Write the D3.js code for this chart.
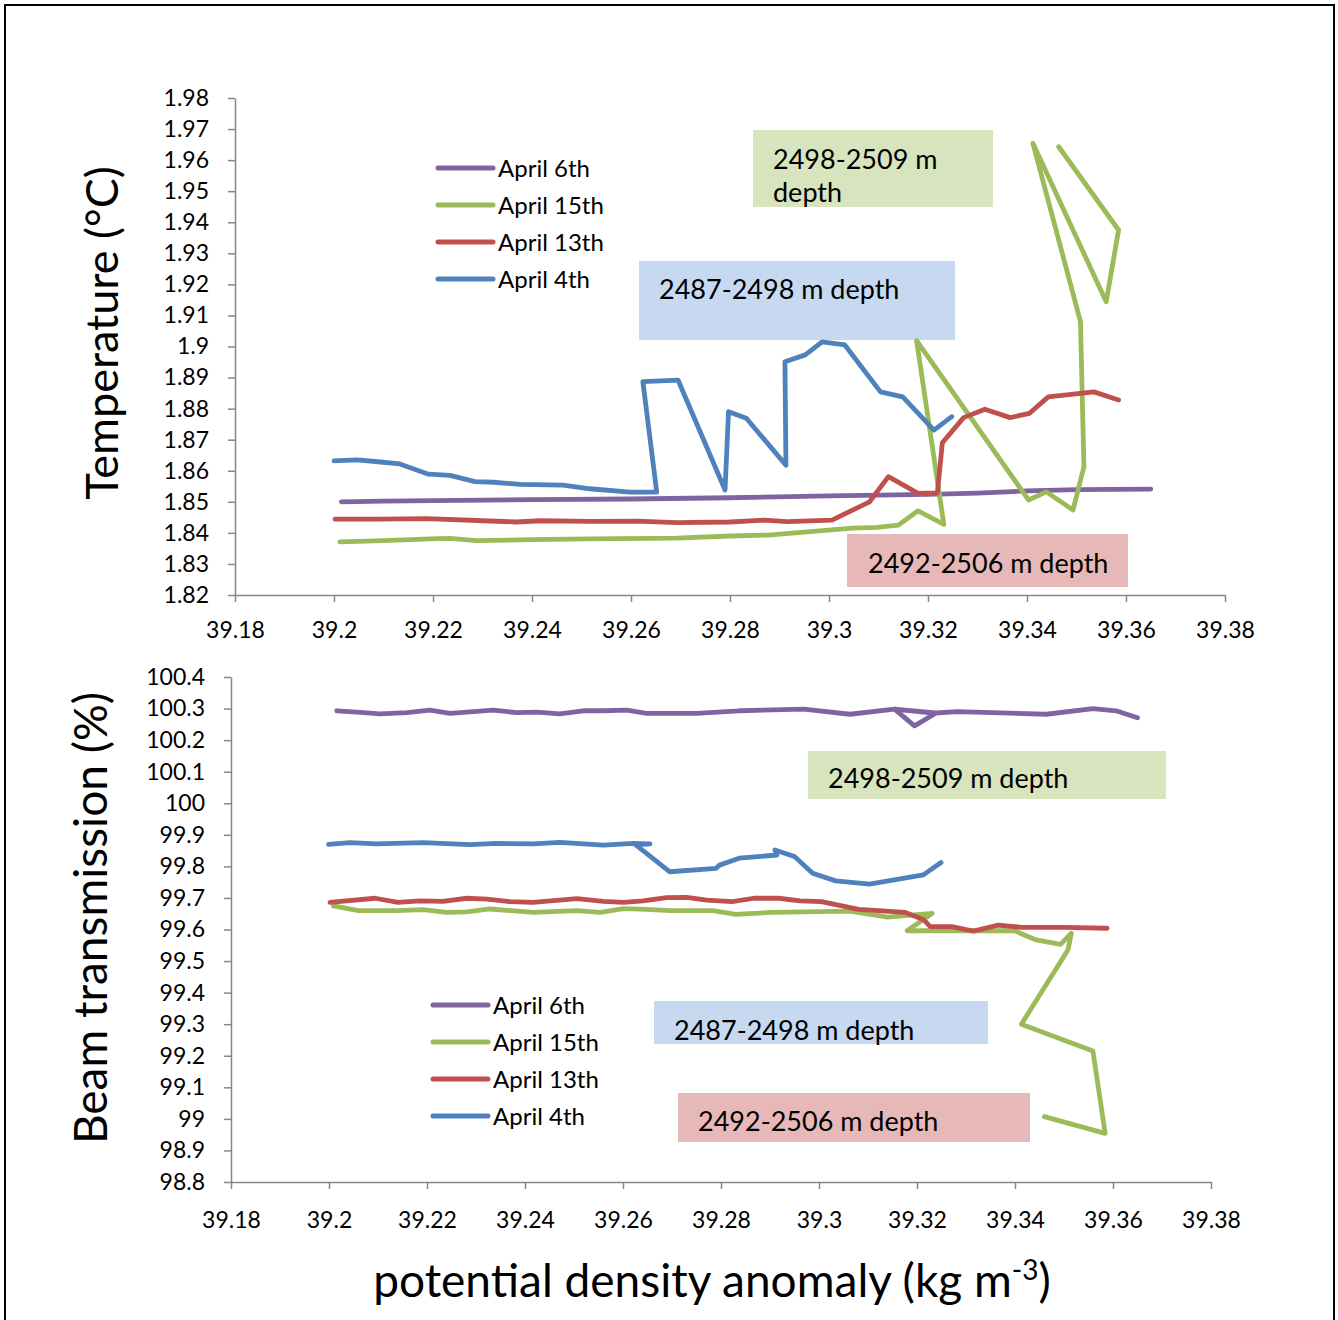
<!DOCTYPE html>
<meta charset="utf-8">
<title>Temperature and beam transmission vs potential density anomaly</title>
<script src="https://d3js.org/d3.v7.min.js"></script>
<style>
  body { margin: 0; background: #fff; font-family: "Lato", sans-serif; }
  .axis path, .axis line { stroke: #868686; stroke-width: 1.5; }
  .axis text { fill: #000; font-family: "Lato", sans-serif; font-size: 23px; }
</style>
<div id="chart"></div>
<script>
  // ---- data ----
  var seriesNames = ["April 6th", "April 15th", "April 13th", "April 4th"];
  var seriesColors = ["#8064a2", "#9bbb59", "#c0504d", "#4f81bd"];

  var densityTicks = [39.18, 39.2, 39.22, 39.24, 39.26, 39.28, 39.3, 39.32, 39.34, 39.36, 39.38];
  var tempTicks = [1.82, 1.83, 1.84, 1.85, 1.86, 1.87, 1.88, 1.89, 1.9, 1.91, 1.92, 1.93, 1.94, 1.95, 1.96, 1.97, 1.98];
  var beamTicks = [98.8, 98.9, 99, 99.1, 99.2, 99.3, 99.4, 99.5, 99.6, 99.7, 99.8, 99.9, 100, 100.1, 100.2, 100.3, 100.4];

  // temperature, [density, temp]
  var tempApr6 = [[39.2015, 1.8500], [39.21, 1.8502], [39.22, 1.8504], [39.24, 1.8507], [39.26, 1.8509],
    [39.28, 1.8513], [39.30, 1.8519], [39.32, 1.8524], [39.33, 1.8528], [39.34, 1.8535], [39.35, 1.8539],
    [39.365, 1.8541]];
  var tempApr15 = [[39.2012, 1.8371], [39.2100, 1.8375], [39.2194, 1.8381], [39.2234, 1.8382], [39.2288, 1.8375],
    [39.2396, 1.8378], [39.2517, 1.8381], [39.2692, 1.8383], [39.2800, 1.8390], [39.2877, 1.8393],
    [39.3047, 1.8415], [39.3097, 1.8418], [39.3140, 1.8425], [39.3180, 1.8471], [39.3232, 1.8427],
    [39.3177, 1.9019], [39.3403, 1.8506], [39.3439, 1.8532], [39.3493, 1.8474], [39.3515, 1.8613],
    [39.3508, 1.9080], [39.3412, 1.9654], [39.3560, 1.9144], [39.3585, 1.9375], [39.3464, 1.9643]];
  var tempApr13 = [[39.2002, 1.8444], [39.2093, 1.8444], [39.2187, 1.8446], [39.2302, 1.8439], [39.2369, 1.8435],
    [39.2416, 1.8439], [39.2517, 1.8437], [39.2612, 1.8438], [39.2692, 1.8433], [39.2800, 1.8435],
    [39.2869, 1.8441], [39.2916, 1.8436], [39.3006, 1.8441], [39.3082, 1.8500], [39.3120, 1.8581],
    [39.3180, 1.8527], [39.3219, 1.8529], [39.3229, 1.8690], [39.3272, 1.8771], [39.3315, 1.8798],
    [39.3366, 1.8771], [39.3405, 1.8785], [39.3443, 1.8838], [39.3535, 1.8854], [39.3585, 1.8828]];
  var tempApr4 = [[39.2000, 1.8632], [39.2046, 1.8635], [39.2089, 1.8629], [39.2133, 1.8622], [39.2191, 1.8589],
    [39.2234, 1.8585], [39.2285, 1.8565], [39.2322, 1.8563], [39.2376, 1.8556], [39.2463, 1.8554],
    [39.2517, 1.8542], [39.2598, 1.8531], [39.2652, 1.8531], [39.2624, 1.8887], [39.2695, 1.8892],
    [39.2790, 1.8538], [39.2797, 1.8790], [39.2833, 1.8769], [39.2913, 1.8618], [39.2911, 1.8951],
    [39.2952, 1.8973], [39.2986, 1.9015], [39.3032, 1.9005], [39.3104, 1.8854], [39.3149, 1.8838],
    [39.3212, 1.8731], [39.3248, 1.8774]];

  // beam transmission, [density, %]
  var beamApr6 = [[39.2016, 100.293], [39.2057, 100.289], [39.2104, 100.283], [39.2159, 100.287], [39.2206, 100.295],
    [39.2247, 100.285], [39.2335, 100.295], [39.2383, 100.287], [39.2424, 100.289], [39.2471, 100.283],
    [39.2519, 100.293], [39.2560, 100.293], [39.2608, 100.295], [39.2648, 100.285], [39.2750, 100.285],
    [39.2837, 100.293], [39.2969, 100.298], [39.3063, 100.282], [39.3154, 100.298], [39.3195, 100.245],
    [39.3238, 100.285], [39.3154, 100.298], [39.3238, 100.286], [39.3282, 100.290], [39.3464, 100.282],
    [39.3559, 100.300], [39.3606, 100.293], [39.3650, 100.271]];
  var beamApr15 = [[39.2009, 99.675], [39.2060, 99.660], [39.2138, 99.660], [39.2192, 99.663], [39.2240, 99.654],
    [39.2281, 99.656], [39.2329, 99.665], [39.2417, 99.654], [39.2506, 99.660], [39.2553, 99.654],
    [39.2601, 99.666], [39.2648, 99.664], [39.2696, 99.660], [39.2784, 99.660], [39.2830, 99.648],
    [39.2903, 99.654], [39.3063, 99.658], [39.3140, 99.639], [39.3231, 99.651], [39.3180, 99.596],
    [39.3399, 99.596], [39.3443, 99.567], [39.3493, 99.553], [39.3515, 99.588], [39.3508, 99.535],
    [39.3413, 99.300], [39.3559, 99.215], [39.3584, 98.954], [39.3460, 99.007]];
  var beamApr13 = [[39.2002, 99.686], [39.2094, 99.699], [39.2141, 99.686], [39.2186, 99.691], [39.2233, 99.689],
    [39.2281, 99.699], [39.2322, 99.696], [39.2369, 99.688], [39.2417, 99.686], [39.2506, 99.698],
    [39.2560, 99.689], [39.2601, 99.686], [39.2641, 99.691], [39.2689, 99.701], [39.2730, 99.702],
    [39.2771, 99.693], [39.2823, 99.688], [39.2867, 99.699], [39.2918, 99.699], [39.2961, 99.691],
    [39.3005, 99.688], [39.3081, 99.664], [39.3176, 99.654], [39.3213, 99.632], [39.3227, 99.609],
    [39.3271, 99.609], [39.3315, 99.595], [39.3366, 99.614], [39.3413, 99.607], [39.3501, 99.607],
    [39.3588, 99.604]];
  var beamApr4 = [[39.1999, 99.870], [39.2043, 99.875], [39.2097, 99.871], [39.2192, 99.875], [39.2288, 99.869],
    [39.2342, 99.873], [39.2417, 99.871], [39.2471, 99.876], [39.2560, 99.867], [39.2621, 99.873],
    [39.2655, 99.871], [39.2626, 99.868], [39.2695, 99.783], [39.2790, 99.794], [39.2797, 99.804],
    [39.2837, 99.826], [39.2914, 99.836], [39.2910, 99.852], [39.2950, 99.831], [39.2987, 99.778],
    [39.3034, 99.754], [39.3103, 99.744], [39.3213, 99.773], [39.3249, 99.812]];

  var tempSeries = [tempApr6, tempApr15, tempApr13, tempApr4];
  var beamSeries = [beamApr6, beamApr15, beamApr13, beamApr4];

  var W = 1338, H = 1320;
  var svg = d3.select("#chart").append("svg")
    .attr("width", W).attr("height", H);

  // outer frame
  svg.append("rect")
    .attr("x", 5).attr("y", 5)
    .attr("width", 1329).attr("height", 1330)
    .attr("fill", "none").attr("stroke", "#000").attr("stroke-width", 2);

  function fmt(n) { return function(d) { return String(+d.toFixed(n)); }; }

  // draws one panel: axes, lines, legend, depth boxes
  function panel(opt) {
    var x = d3.scaleLinear().domain([39.18, 39.38]).range(opt.xr);
    var y = d3.scaleLinear().domain(opt.yd).range(opt.yr);

    svg.append("g")
      .attr("class", "axis")
      .attr("transform", "translate(" + opt.xr[0] + ",0)")
      .call(d3.axisLeft(y).tickValues(opt.yTicks).tickFormat(fmt(opt.yDec))
        .tickSize(7).tickSizeOuter(0).tickPadding(19));

    svg.append("g")
      .attr("class", "axis")
      .attr("transform", "translate(0," + opt.yr[0] + ")")
      .call(d3.axisBottom(x).tickValues(densityTicks).tickFormat(fmt(2))
        .tickSize(7).tickSizeOuter(0).tickPadding(opt.xPad));

    // depth boxes
    opt.boxes.forEach(function(b) {
      svg.append("rect")
        .attr("x", b.x).attr("y", b.y).attr("width", b.w).attr("height", b.h)
        .attr("fill", b.fill);
      b.lines.forEach(function(t, i) {
        svg.append("text")
          .attr("x", b.tx).attr("y", b.ty + i * 33)
          .style("font-size", "27px")
          .text(t);
      });
    });

    var line = d3.line()
      .x(function(d) { return x(d[0]); })
      .y(function(d) { return y(d[1]); });

    svg.selectAll(null)
      .data(opt.series)
      .enter()
      .append("path")
      .attr("d", line)
      .attr("fill", "none")
      .attr("stroke", function(d, i) { return seriesColors[i]; })
      .attr("stroke-width", 4.8)
      .attr("stroke-linejoin", "round")
      .attr("stroke-linecap", "round");

    // legend
    seriesNames.forEach(function(name, i) {
      var ly = opt.legY + i * 37;
      svg.append("line")
        .attr("x1", opt.legX).attr("x2", opt.legX + 55)
        .attr("y1", ly).attr("y2", ly)
        .attr("stroke", seriesColors[i]).attr("stroke-width", 5)
        .attr("stroke-linecap", "round");
      svg.append("text")
        .attr("x", opt.legX + 60).attr("y", ly)
        .attr("dy", "0.36em")
        .style("font-size", "24px")
        .text(name);
    });

    // y title
    svg.append("text")
      .attr("transform", "translate(" + opt.titleX + "," + opt.titleY + ") rotate(-90)")
      .style("text-anchor", "middle")
      .style("font-size", opt.titleSize)
      .text(opt.title);
  }

  panel({
    xr: [235, 1225], yd: [1.82, 1.98], yr: [595, 98],
    yTicks: tempTicks, yDec: 2, xPad: 20,
    series: tempSeries,
    legX: 438, legY: 168,
    title: "Temperature (°C)", titleX: 118, titleY: 333, titleSize: "45px",
    boxes: [
      {x: 753, y: 130, w: 240, h: 77, fill: "#d7e4bd", tx: 773, ty: 169, lines: ["2498-2509 m", "depth"]},
      {x: 639, y: 261, w: 316, h: 79, fill: "#c6d9f1", tx: 659, ty: 299, lines: ["2487-2498 m depth"]},
      {x: 847, y: 534, w: 281, h: 53, fill: "#e6b9b8", tx: 868, ty: 573, lines: ["2492-2506 m depth"]}
    ]
  });

  panel({
    xr: [231, 1211], yd: [98.8, 100.4], yr: [1182, 677],
    yTicks: beamTicks, yDec: 1, xPad: 23,
    series: beamSeries,
    legX: 433, legY: 1005,
    title: "Beam transmission (%)", titleX: 107, titleY: 918, titleSize: "46px",
    boxes: [
      {x: 808, y: 751, w: 358, h: 48, fill: "#d7e4bd", tx: 828, ty: 788, lines: ["2498-2509 m depth"]},
      {x: 654, y: 1001, w: 334, h: 43, fill: "#c6d9f1", tx: 674, ty: 1040, lines: ["2487-2498 m depth"]},
      {x: 678, y: 1093, w: 352, h: 49, fill: "#e6b9b8", tx: 698, ty: 1131, lines: ["2492-2506 m depth"]}
    ]
  });

  // x title
  var xt = svg.append("text")
    .attr("x", 712).attr("y", 1297)
    .style("text-anchor", "middle")
    .style("font-size", "46px");
  xt.append("tspan").text("potential density anomaly (kg m");
  xt.append("tspan").attr("dy", "-17").style("font-size", "28px").text("-3");
  xt.append("tspan").attr("dy", "17").text(")");
</script>
